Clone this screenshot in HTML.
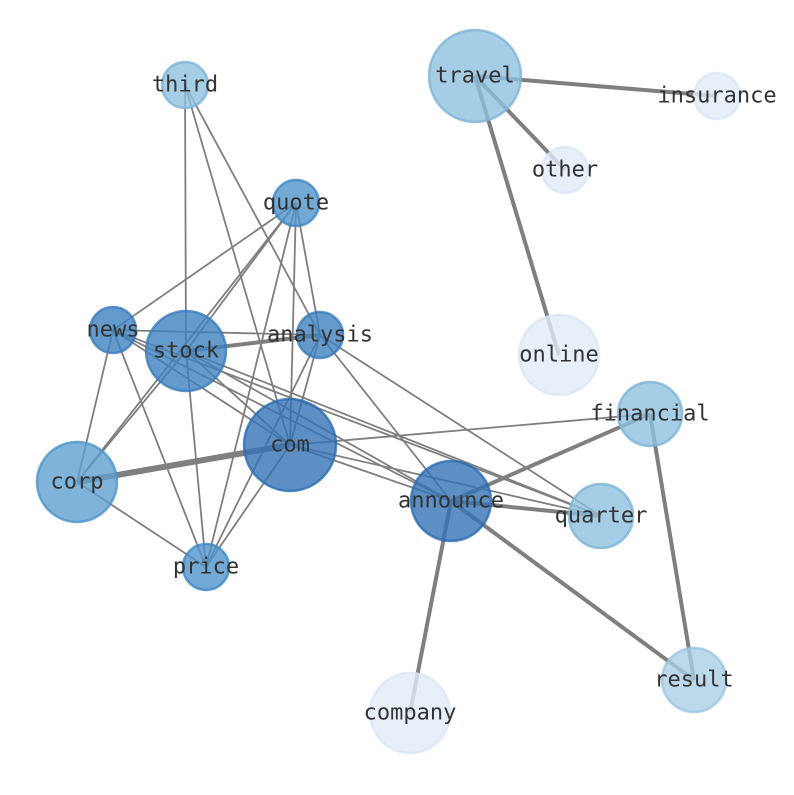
<!DOCTYPE html>
<html><head><meta charset="utf-8"><style>
html,body{margin:0;padding:0;background:#fff;}
svg text{font-family:"DejaVu Sans Mono","Liberation Mono",monospace;font-size:22px;fill:#333;text-anchor:middle;dominant-baseline:central;}
</style></head><body>
<svg width="794" height="790" viewBox="0 0 794 790" xmlns="http://www.w3.org/2000/svg">
<g stroke="#7f7f7f" stroke-width="1.8" fill="none">
<line x1="185" y1="85" x2="186" y2="351"/>
<line x1="185" y1="85" x2="290" y2="445"/>
<line x1="185" y1="85" x2="320" y2="335"/>
<line x1="296" y1="203" x2="113" y2="330"/>
<line x1="296" y1="203" x2="186" y2="351"/>
<line x1="296" y1="203" x2="77" y2="482"/>
<line x1="296" y1="203" x2="206" y2="567"/>
<line x1="296" y1="203" x2="290" y2="445"/>
<line x1="296" y1="203" x2="320" y2="335"/>
<line x1="113" y1="330" x2="320" y2="335"/>
<line x1="113" y1="330" x2="77" y2="482"/>
<line x1="113" y1="330" x2="206" y2="567"/>
<line x1="113" y1="330" x2="290" y2="445"/>
<line x1="113" y1="330" x2="451" y2="501"/>
<line x1="113" y1="330" x2="601" y2="516"/>
<line x1="186" y1="351" x2="206" y2="567"/>
<line x1="186" y1="351" x2="77" y2="482"/>
<line x1="186" y1="351" x2="290" y2="445"/>
<line x1="186" y1="351" x2="451" y2="501"/>
<line x1="186" y1="351" x2="601" y2="516"/>
<line x1="320" y1="335" x2="290" y2="445"/>
<line x1="320" y1="335" x2="206" y2="567"/>
<line x1="320" y1="335" x2="601" y2="516"/>
<line x1="320" y1="335" x2="451" y2="501"/>
<line x1="290" y1="445" x2="206" y2="567"/>
<line x1="290" y1="445" x2="650" y2="414"/>
<line x1="290" y1="445" x2="451" y2="501"/>
<line x1="290" y1="445" x2="601" y2="516"/>
<line x1="77" y1="482" x2="206" y2="567"/>
</g>
<g stroke="#7f7f7f" stroke-width="4" fill="none">
<line x1="186" y1="351" x2="320" y2="335"/>
<line x1="77" y1="482" x2="290" y2="445" stroke-width="6"/>
<line x1="451" y1="501" x2="650" y2="414"/>
<line x1="451" y1="501" x2="601" y2="516"/>
<line x1="451" y1="501" x2="410" y2="713"/>
<line x1="451" y1="501" x2="694" y2="680"/>
<line x1="650" y1="414" x2="694" y2="680"/>
<line x1="475" y1="76" x2="717" y2="96"/>
<line x1="475" y1="76" x2="565" y2="170"/>
<line x1="475" y1="76" x2="559" y2="355"/>
</g>
<g stroke-width="2.5" fill-opacity="0.8" stroke-opacity="0.8">
<circle cx="185" cy="85" r="23" fill="#8fc1de" stroke="#7ab4d8"/>
<circle cx="475" cy="76" r="46" fill="#8fc1de" stroke="#7ab4d8"/>
<circle cx="717" cy="96" r="23" fill="#e1ebf8" stroke="#dbe7f6"/>
<circle cx="565" cy="170" r="23" fill="#e1ebf8" stroke="#dbe7f6"/>
<circle cx="296" cy="203" r="23" fill="#4f95cb" stroke="#3f88c5"/>
<circle cx="113" cy="330" r="23" fill="#3e82bf" stroke="#3a7cbd"/>
<circle cx="186" cy="351" r="40" fill="#3e82bf" stroke="#3a7cbd"/>
<circle cx="320" cy="335" r="23" fill="#3e82bf" stroke="#3a7cbd"/>
<circle cx="559" cy="355" r="40" fill="#e1ebf8" stroke="#dbe7f6"/>
<circle cx="650" cy="414" r="32" fill="#8fc1de" stroke="#7ab4d8"/>
<circle cx="290" cy="445" r="46" fill="#3473b7" stroke="#2c6db4"/>
<circle cx="77" cy="482" r="40" fill="#5fa0d0" stroke="#4f95cb"/>
<circle cx="451" cy="501" r="40" fill="#3473b7" stroke="#2c6db4"/>
<circle cx="601" cy="516" r="32" fill="#8fc1de" stroke="#7ab4d8"/>
<circle cx="206" cy="567" r="23" fill="#4f95cb" stroke="#3f88c5"/>
<circle cx="694" cy="680" r="32" fill="#abd0e6" stroke="#9ac6e2"/>
<circle cx="410" cy="713" r="40" fill="#e1ebf8" stroke="#dbe7f6"/>
</g>
<g>
<text x="185" y="85">third</text>
<text x="475" y="76">travel</text>
<text x="717" y="96">insurance</text>
<text x="565" y="170">other</text>
<text x="296" y="203">quote</text>
<text x="113" y="330">news</text>
<text x="186" y="351">stock</text>
<text x="320" y="335">analysis</text>
<text x="559" y="355">online</text>
<text x="650" y="414">financial</text>
<text x="290" y="445">com</text>
<text x="77" y="482">corp</text>
<text x="451" y="501">announce</text>
<text x="601" y="516">quarter</text>
<text x="206" y="567">price</text>
<text x="694" y="680">result</text>
<text x="410" y="713">company</text>
</g>
</svg>
</body></html>
